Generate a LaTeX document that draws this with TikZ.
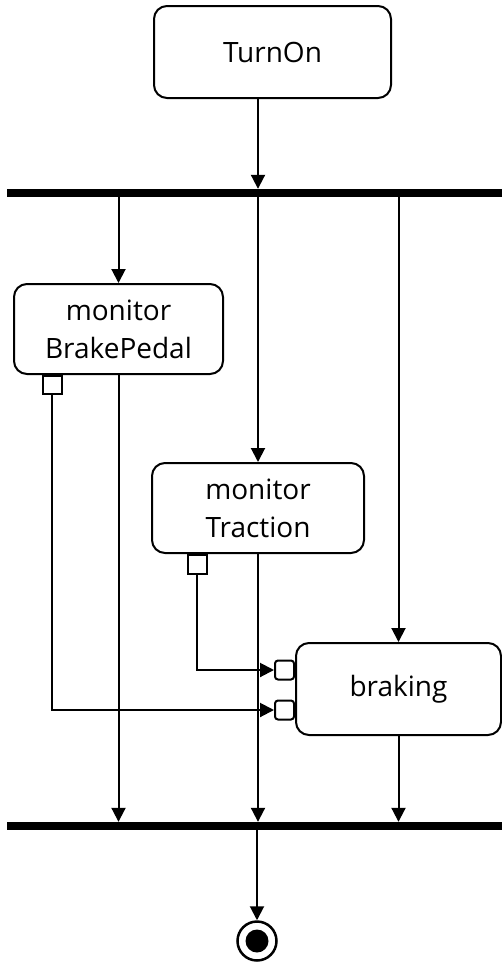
\documentclass[tikz,border=0pt]{standalone}
\usepackage{fontspec}
\setmainfont{Open Sans}
\usetikzlibrary{arrows.meta,calc,positioning}
\definecolor{adInk}{HTML}{000000}
\definecolor{adPaper}{HTML}{FFFFFF}
\tikzset{
  ad action/.style={
    draw=adInk, fill=adPaper,
    line width=2pt,
    rounded corners=13pt,
    align=center,
    inner sep=0pt,
    font=\fontsize{28}{38}\selectfont,
    text=adInk
  },
  ad bar/.style={
    fill=adInk, inner sep=0pt,
    minimum width=495pt, minimum height=8pt
  },
  ad pinbox/.style={
    draw=adInk, fill=adPaper,
    line width=2pt,
    inner sep=0pt,
    minimum width=19pt, minimum height=19pt
  },
  ad flow/.style={
    draw=adInk,
    line width=2pt,
    -{Triangle[length=14pt,width=14pt]}
  },
  ad final/.style={
    circle, draw=adInk, fill=adPaper,
    line width=2.5pt,
    minimum size=39pt, inner sep=0pt,
    path picture={\fill[adInk] (path picture bounding box.center) circle (11.5pt);}
  }
}
\begin{document}
\begin{tikzpicture}[x=1pt,y=-1pt]
  \useasboundingbox[fill=adPaper] (0,0) rectangle (502,962);

  \node[ad action, minimum width=237pt, minimum height=92pt] (turnon) at (272.5,52) {TurnOn};
  \node[ad bar] (fork) at (254.5,193) {};
  \node[ad action, minimum width=209pt, minimum height=90pt] (brake) at (118.5,329) {monitor\\BrakePedal};
  \node[ad action, minimum width=212pt, minimum height=90pt] (traction) at (258,508) {monitor\\Traction};
  \node[ad action, minimum width=205pt, minimum height=92pt] (braking) at (398.5,689) {braking};
  \node[ad bar] (join) at (254.5,826) {};
  \node[ad final] (done) at (257,941) {};

  % pins
  \node[ad pinbox, anchor=north, minimum height=18pt] (brakeout) at ([xshift=-66.5pt]brake.south) {};
  \node[ad pinbox, anchor=north] (tractionout) at ([xshift=-61pt]traction.south) {};
  \node[ad pinbox, rounded corners=3pt, anchor=east] (brakingin1) at ([yshift=19pt]braking.west) {};
  \node[ad pinbox, rounded corners=3pt, anchor=east] (brakingin2) at ([yshift=-21pt]braking.west) {};

  \draw[ad flow] (turnon.south -| traction) -- (fork.north -| traction);
  \draw[ad flow] (fork.south -| brake) -- (brake.north);
  \draw[ad flow] (fork.south -| traction) -- (traction.north);
  \draw[ad flow] (fork.south -| braking) -- (braking.north);

  \draw[ad flow] (tractionout.south) |- (brakingin1.west);
  \draw[ad flow] (brakeout.south) |- (brakingin2.west);

  \draw[ad flow] (brake.south) -- (join.north -| brake);
  \draw[ad flow] (traction.south) -- (join.north -| traction);
  \draw[ad flow] (braking.south) -- (join.north -| braking);
  \draw[ad flow] (join.south -| done) -- (done.north);
\end{tikzpicture}
\end{document}
